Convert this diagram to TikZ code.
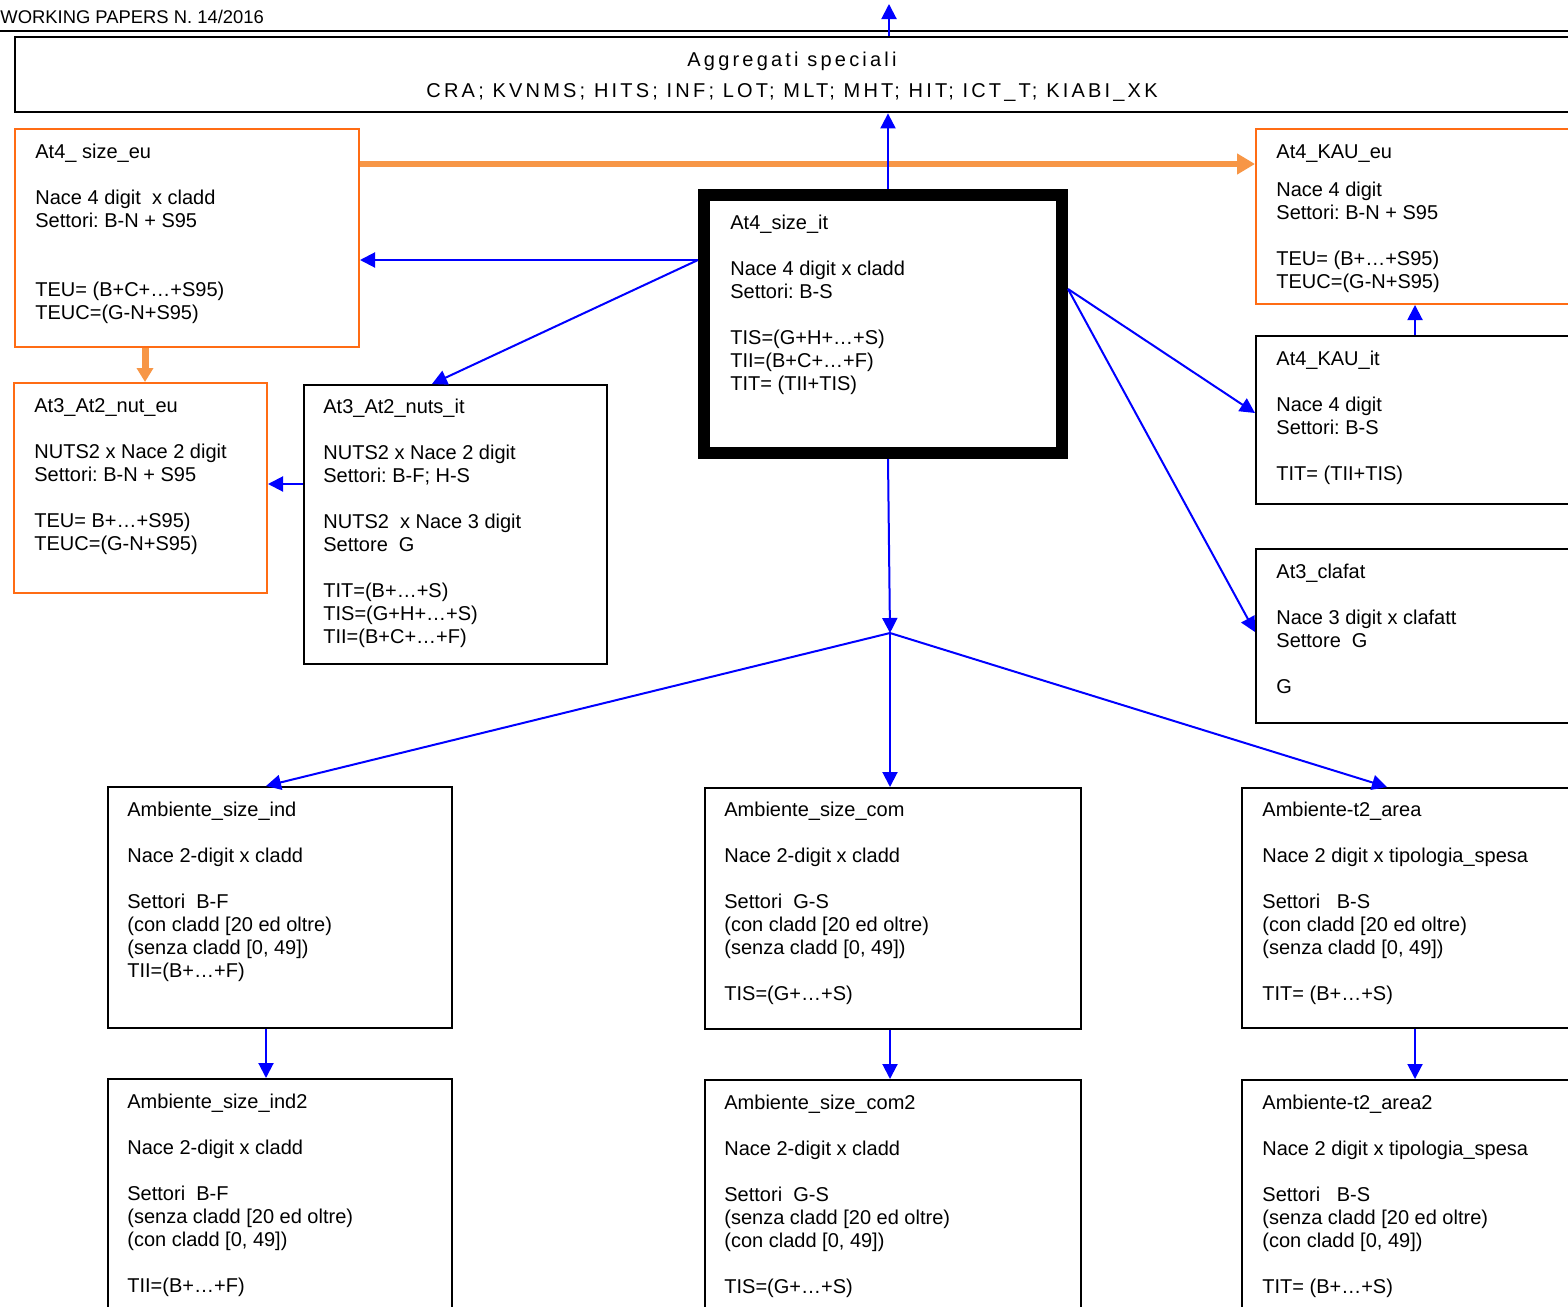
\documentclass[tikz,border=0pt]{standalone}
\usepackage{fontspec}
\setmainfont{Liberation Sans}
\usetikzlibrary{arrows.meta,calc}
\definecolor{oborder}{RGB}{255,108,20}
\definecolor{oarr}{RGB}{247,150,70}
\frenchspacing
\begin{document}
\begin{tikzpicture}[x=0.5pt,y=-0.5pt,
  every node/.style={font=\fontsize{10pt}{11.5pt}\selectfont},
  box/.style={draw=black, line width=1pt, anchor=north west, inner sep=0pt},
  obox/.style={box, draw=oborder},
  txt/.style={anchor=north west, inner sep=0pt, align=left},
  barrow/.style={draw=blue, line width=1pt, -{Triangle[length=7.5pt,width=7.5pt]}},
  oarrow/.style={draw=oarr, line width=3pt, -{Triangle[length=9pt,width=10pt]}},
  odown/.style={draw=oarr, line width=3.5pt, -{Triangle[length=7pt,width=8pt]}}]
\useasboundingbox (0,0) rectangle (1568,1306);
\clip (0,0) rectangle (1568,1306);

% header
\node[anchor=base west, inner sep=0pt, font=\fontsize{9.2pt}{11pt}\selectfont] (hdr) at (0,24) {WORKING PAPERS N. 14/2016};
\draw[line width=0.8pt] (0,31) -- (1568,31);

% top box
\node[box, line width=1.2pt, minimum width=788pt, minimum height=37.5pt] (agg) at (14,36) {};
\node[anchor=north, align=center, inner sep=0pt,
  font=\fontsize{10pt}{11.5pt}\selectfont\addfontfeatures{LetterSpace=16}] (aggt) at (792,50)
  {\strut Aggregati speciali\\[4pt] CRA; KVNMS; HITS; INF; LOT; MLT; MHT; HIT; ICT\_T; KIABI\_XK};

% boxes
\node[obox, minimum width=172pt, minimum height=109pt] (eu) at (14,128) {};
\node[obox, minimum width=126.5pt, minimum height=105pt] (nuteu) at (13,382) {};
\node[box, minimum width=151.5pt, minimum height=139.5pt] (nutsit) at (303,384) {};
\node[box, line width=6pt, minimum width=179pt, minimum height=129pt] (cent) at (698,189) {};
\node[obox, minimum width=167.5pt, minimum height=87.5pt] (kaueu) at (1255,128) {};
\node[box, minimum width=167.5pt, minimum height=84pt] (kauit) at (1255,335) {};
\node[box, minimum width=167.5pt, minimum height=87pt] (clafat) at (1255,548) {};
\node[box, minimum width=172pt, minimum height=120.5pt] (ind) at (107,786) {};
\node[box, minimum width=188pt, minimum height=120.5pt] (com) at (704,787) {};
\node[box, minimum width=174.5pt, minimum height=120pt] (area) at (1241,787) {};
\node[box, minimum width=172pt, minimum height=121pt] (ind2) at (107,1078) {};
\node[box, minimum width=188pt, minimum height=121pt] (com2) at (704,1079) {};
\node[box, minimum width=174.5pt, minimum height=121pt] (area2) at (1241,1079) {};

% texts
\node[txt] (teu) at (35,142) {\strut At4\_ size\_eu\\[11.5pt] Nace 4 digit\ \ x cladd\\ Settori: B-N + S95\\[23pt] TEU= (B+C+…+S95)\\ TEUC=(G-N+S95)};
\node[txt] (tnuteu) at (34,396) {\strut At3\_At2\_nut\_eu\\[11.5pt] NUTS2 x Nace 2 digit\\ Settori: B-N + S95\\[11.5pt] TEU= B+…+S95)\\ TEUC=(G-N+S95)};
\node[txt] (tnutsit) at (323,397) {\strut At3\_At2\_nuts\_it\\[11.5pt] NUTS2 x Nace 2 digit\\ Settori: B-F; H-S\\[11.5pt] NUTS2\ \ x Nace 3 digit\\ Settore\ \ G\\[11.5pt] TIT=(B+…+S)\\ TIS=(G+H+…+S)\\ TII=(B+C+…+F)};
\node[txt] (tcent) at (730,213) {\strut At4\_size\_it\\[11.5pt] Nace 4 digit x cladd\\ Settori: B-S\\[11.5pt] TIS=(G+H+…+S)\\ TII=(B+C+…+F)\\ TIT= (TII+TIS)};
\node[txt] (tkaueu) at (1276,142) {\strut At4\_KAU\_eu\\[7.5pt] Nace 4 digit\\ Settori: B-N + S95\\[11.5pt] TEU= (B+…+S95)\\ TEUC=(G-N+S95)};
\node[txt] (tkauit) at (1276,349) {\strut At4\_KAU\_it\\[11.5pt] Nace 4 digit\\ Settori: B-S\\[11.5pt] TIT= (TII+TIS)};
\node[txt] (tclafat) at (1276,562) {\strut At3\_clafat\\[11.5pt] Nace 3 digit x clafatt\\ Settore\ \ G\\[11.5pt] G};
\node[txt] (tind) at (127,800) {\strut Ambiente\_size\_ind\\[11.5pt] Nace 2-digit x cladd\\[11.5pt] Settori\ \ B-F\\ (con cladd [20 ed oltre)\\ (senza cladd [0, 49])\\ TII=(B+…+F)};
\node[txt] (tcom) at (724,800) {\strut Ambiente\_size\_com\\[11.5pt] Nace 2-digit x cladd\\[11.5pt] Settori\ \ G-S\\ (con cladd [20 ed oltre)\\ (senza cladd [0, 49])\\[11.5pt] TIS=(G+…+S)};
\node[txt] (tarea) at (1262,800) {\strut Ambiente-t2\_area\\[11.5pt] Nace 2 digit x tipologia\_spesa\\[11.5pt] Settori\ \ \ B-S\\ (con cladd [20 ed oltre)\\ (senza cladd [0, 49])\\[11.5pt] TIT= (B+…+S)};
\node[txt] (tind2) at (127,1092) {\strut Ambiente\_size\_ind2\\[11.5pt] Nace 2-digit x cladd\\[11.5pt] Settori\ \ B-F\\ (senza cladd [20 ed oltre)\\ (con cladd [0, 49])\\[11.5pt] TII=(B+…+F)};
\node[txt] (tcom2) at (724,1093) {\strut Ambiente\_size\_com2\\[11.5pt] Nace 2-digit x cladd\\[11.5pt] Settori\ \ G-S\\ (senza cladd [20 ed oltre)\\ (con cladd [0, 49])\\[11.5pt] TIS=(G+…+S)};
\node[txt] (tarea2) at (1262,1093) {\strut Ambiente-t2\_area2\\[11.5pt] Nace 2 digit x tipologia\_spesa\\[11.5pt] Settori\ \ \ B-S\\ (senza cladd [20 ed oltre)\\ (con cladd [0, 49])\\[11.5pt] TIT= (B+…+S)};

% helper coordinates
\coordinate (topend) at (889,4);
\coordinate (J) at (890,633);
\coordinate (yA) at (0,260);
\coordinate (yB) at (0,484);
\coordinate (yC) at (0,289);
\coordinate (yD) at (0,413);
\coordinate (yE) at (0,632);
\coordinate (yO) at (0,164);
\coordinate (xA) at (432,0);
\coordinate (xK) at (1415,0);
\coordinate (xO) at (145,0);
\coordinate (xI) at (266,0);
\coordinate (xC) at (890,0);
\coordinate (xR) at (1387,0);
\coordinate (xT) at (889,0);
\coordinate (xM) at (888,0);

% orange arrows
\draw[oarrow] (eu.east |- yO) -- (kaueu.west |- yO);
\draw[odown] (eu.south -| xO) -- (nuteu.north -| xO);

% blue arrows
\draw[barrow] (agg.north -| xT) -- (topend);
\draw[barrow] (cent.north -| xM) -- (agg.south -| xM);
\draw[barrow] (cent.west |- yA) -- (eu.east |- yA);
\draw[barrow] (cent.west |- yA) -- (nutsit.north -| xA);
\draw[barrow] (nutsit.west |- yB) -- (nuteu.east |- yB);
\draw[barrow] (cent.east |- yC) -- (kauit.west |- yD);
\draw[barrow] (cent.east |- yC) -- (clafat.west |- yE);
\draw[barrow] (kauit.north -| xK) -- (kaueu.south -| xK);
\draw[barrow] (cent.south -| xM) -- (J);
\draw[barrow] (J) -- (ind.north -| xI);
\draw[barrow] (J) -- (com.north -| xC);
\draw[barrow] (J) -- (area.north -| xR);
\draw[barrow] (ind.south -| xI) -- (ind2.north -| xI);
\draw[barrow] (com.south -| xC) -- (com2.north -| xC);
\draw[barrow] (area.south -| xK) -- (area2.north -| xK);
\end{tikzpicture}
\end{document}
